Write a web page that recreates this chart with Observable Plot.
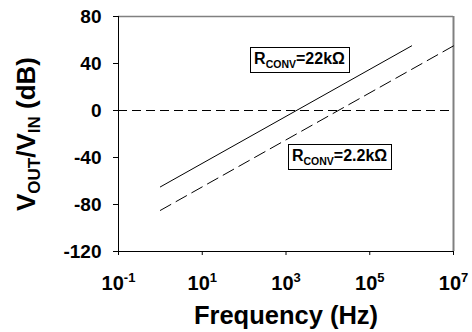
<!DOCTYPE html>
<html><head><meta charset="utf-8">
<script src="https://cdn.jsdelivr.net/npm/d3@7"></script>
<script src="https://cdn.jsdelivr.net/npm/@observablehq/plot@0.6"></script>
<style>body{margin:0;background:#fff}</style>
</head><body><div id="chart"></div>
<script>
// Data
const freq22k = [1, 1e6];
const gain22k = [-65, 55];
const freq2k2 = [1, 1e7];
const gain2k2 = [-85, 55];
const xDomain = [0.1, 1e7];
const yDomain = [-120, 80];
const xTicks = [0.1, 10, 1e3, 1e5, 1e7];
const xTickExp = ["-1", "1", "3", "5", "7"];
const yTicks = [-120, -80, -40, 0, 40, 80];
const labelTail = ["=22k\u03A9", "=2.2k\u03A9"];
const labelFreq = [2100, 19000];
const labelGain = [43.6, -38.6];

const font = "'Liberation Sans', Arial, Helvetica, sans-serif";
const line22k = freq22k.map((f, i) => ({f, g: gain22k[i]}));
const line2k2 = freq2k2.map((f, i) => ({f, g: gain2k2[i]}));
const labels = labelTail.map((t, i) => ({t: "R_CONV" + t, f: labelFreq[i], g: labelGain[i]}));

const svg = Plot.plot({
  width: 472, height: 332,
  marginLeft: 118, marginRight: 19, marginTop: 16, marginBottom: 81,
  style: {fontFamily: font, fontWeight: "bold", color: "black", background: "white", overflow: "visible"},
  x: {type: "log", domain: xDomain},
  y: {domain: yDomain},
  marks: [
    Plot.ruleY([yDomain[1]], {stroke: "#808080", strokeWidth: 1.5}),
    Plot.ruleX([xDomain[1]], {stroke: "#808080", strokeWidth: 2}),
    Plot.ruleY([0], {stroke: "black", strokeWidth: 1, strokeDasharray: "9,5"}),
    Plot.line(line22k, {x: "f", y: "g", stroke: "black", strokeWidth: 1}),
    Plot.line(line2k2, {x: "f", y: "g", stroke: "black", strokeWidth: 1, strokeDasharray: "12,6"}),
    Plot.ruleX([xDomain[0]], {stroke: "black", strokeWidth: 1}),
    Plot.ruleY([yDomain[0]], {stroke: "black", strokeWidth: 1}),
    Plot.axisY({ticks: yTicks, tickSize: 5, tickPadding: 12, tickFormat: d => String(d), fontSize: 19, label: null}),
    Plot.axisX({ticks: xTicks, tickSize: 4, tickPadding: 20, tickFormat: d => "10^" + xTickExp[xTicks.indexOf(d)], fontSize: 20, label: null}),
    Plot.text(labels, {x: "f", y: "g", text: "t", fontSize: 16, fill: "black", textAnchor: "middle", lineAnchor: "middle"}),
    Plot.text(["Frequency (Hz)"], {frameAnchor: "bottom", dy: 72, lineAnchor: "bottom", fontSize: 25.5, fill: "black"}),
    Plot.text(["V_OUT/V_IN (dB)"], {frameAnchor: "left", dx: -92, rotate: -90, textAnchor: "middle", lineAnchor: "middle", fontSize: 26, fill: "black"})
  ]
});
document.getElementById("chart").appendChild(svg);

function rich(el, parts) {
  while (el.firstChild) el.removeChild(el.firstChild);
  let cur = 0;
  for (const [s, kind, size, shift] of parts) {
    const t = document.createElementNS("http://www.w3.org/2000/svg", "tspan");
    t.textContent = s;
    const target = kind ? shift : 0;
    if (target !== cur) t.setAttribute("dy", target - cur);
    cur = target;
    if (size) t.setAttribute("font-size", size);
    el.appendChild(t);
  }
}

d3.select(svg).selectAll("text").each(function () {
  const s = this.textContent;
  if (s.startsWith("10^")) {
    rich(this, [["10"], [s.slice(3), "sup", 13, -8]]);
  } else if (s.startsWith("R_CONV")) {
    rich(this, [["R"], ["CONV", "sub", 10.5, 4], [s.slice(6)]]);
  } else if (s.startsWith("V_OUT")) {
    rich(this, [["V"], ["OUT", "sub", 17, 5], ["/V"], ["IN", "sub", 17, 5], [" (dB)"]]);
  }
});

// boxes around annotation labels
d3.select(svg).selectAll("text").each(function () {
  if (this.textContent.startsWith("RCONV")) {
    const b = this.getBBox();
    const p = svg.createSVGPoint();
    p.x = b.x; p.y = b.y;
    const q = p.matrixTransform(this.getScreenCTM()).matrixTransform(svg.getScreenCTM().inverse());
    const rect = document.createElementNS("http://www.w3.org/2000/svg", "rect");
    rect.setAttribute("x", Math.round(q.x - 4) + 0.5);
    rect.setAttribute("y", Math.round(q.y - 3) + 0.5);
    rect.setAttribute("width", Math.round(b.width + 8));
    rect.setAttribute("height", Math.round(b.height + 5));
    rect.setAttribute("fill", "white");
    rect.setAttribute("stroke", "black");
    rect.setAttribute("stroke-width", 1);
    svg.insertBefore(rect, this.closest("g"));
  }
});
</script>
</body></html>
